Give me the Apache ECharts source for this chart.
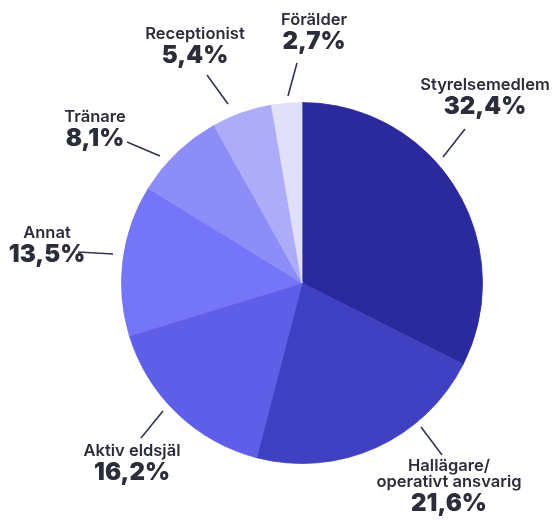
<!DOCTYPE html>
<html>
<head>
<meta charset="utf-8">
<script src="https://cdn.jsdelivr.net/npm/echarts@6/dist/echarts.min.js"></script>
<style>
  html, body { margin: 0; padding: 0; background: #ffffff; }
  #chart { width: 556px; height: 520px; }
</style>
</head>
<body>
<div id="chart"></div>
<script>
// Roles of respondents, share in percent
const roles = ['Styrelsemedlem', 'Hallägare/\noperativt ansvarig', 'Aktiv eldsjäl', 'Annat', 'Tränare', 'Receptionist', 'Förälder'];
const shares = [32.4, 21.6, 16.2, 13.5, 8.1, 5.4, 2.7];

const sliceColors = ['#2b2a9d', '#4040c3', '#5e5ee9', '#7575f9', '#8d8df8', '#acacf9', '#e0e0fa'];

// Label block placement: centre x, top y of the text block
const labelPos = [
  [485, 77], [449, 458], [132, 443], [47, 225], [95, 109], [195, 26], [314, 12]
];
// Leader lines: [pie-side point, label-side point]
const leader = [
  [[443, 157], [465, 129]],
  [[421, 427], [442, 455]],
  [[163, 411], [141, 438]],
  [[113, 254], [78, 252]],
  [[160, 156], [127, 142]],
  [[228, 104], [207, 75]],
  [[288, 96], [297, 63]]
];

const fmt = v => v.toFixed(1).replace('.', ',') + '%';

const chart = echarts.init(document.getElementById('chart'), null, { renderer: 'canvas' });
chart.setOption({
  backgroundColor: '#ffffff',
  animation: false,
  series: [{
    type: 'pie',
    center: [302, 283],
    radius: 180.5,
    startAngle: 90,
    clockwise: true,
    avoidLabelOverlap: false,
    // same-colour hairline border closes the anti-aliasing seams between slices
    data: roles.map((n, i) => ({
      name: n,
      value: shares[i],
      itemStyle: { color: sliceColors[i], borderColor: sliceColors[i], borderWidth: 0.8 }
    })),
    label: {
      show: true,
      position: 'outside',
      formatter: p => '{n|' + p.name.split('\n').join('}\n{n|') + '}\n{p|' + fmt(p.value) + '}',
      align: 'center',
      rich: {
        n: { fontFamily: 'Inter', fontSize: 16.5, fontWeight: 600, color: '#2c2d3a', lineHeight: 16, align: 'center' },
        p: { fontFamily: 'Inter', fontSize: 24, fontWeight: 900, color: '#2c2d3a', lineHeight: 28, align: 'center' }
      }
    },
    labelLine: {
      show: true,
      lineStyle: { color: '#2f3552', width: 1.6 }
    },
    labelLayout: function (params) {
      const i = params.dataIndex;
      return {
        x: labelPos[i][0],
        y: labelPos[i][1],
        align: 'center',
        verticalAlign: 'top',
        labelLinePoints: [leader[i][0], leader[i][1], leader[i][1]]
      };
    },
    emphasis: { disabled: true }
  }]
});
</script>
</body>
</html>
